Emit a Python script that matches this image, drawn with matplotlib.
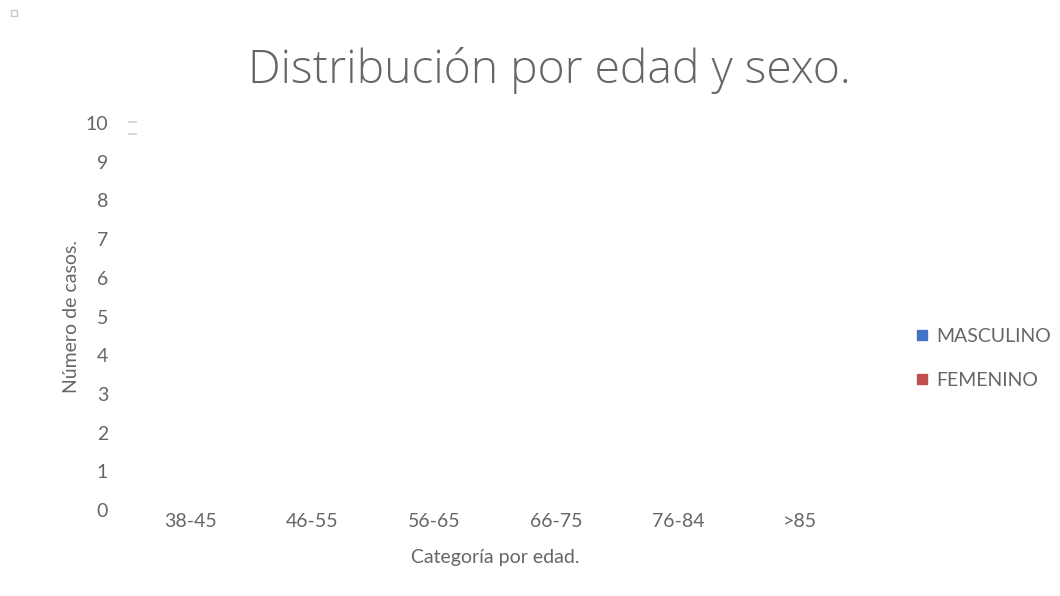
import matplotlib
matplotlib.use("Agg")
import matplotlib.pyplot as plt
import numpy as np
from matplotlib.lines import Line2D

categories = ["38-45", "46-55", "56-65", "66-75", "76-84", ">85"]
masculino = [0, 0, 0, 0, 0, 0]
femenino = [0, 0, 0, 0, 0, 0]
series_names = ["MASCULINO", "FEMENINO"]
colors = ["#4472C4", "#C0504D"]
yticks = list(range(0, 11))

grey = "#666666"
plt.rcParams['font.family'] = ['Lato', 'DejaVu Sans']

fig = plt.figure(figsize=(10.6, 5.96), dpi=100)
ax = fig.add_axes([0.1217, 0.1443, 0.6906, 0.6493])

x = np.arange(len(categories))
w = 0.35
ax.bar(x - w / 2, masculino, w, color=colors[0])
ax.bar(x + w / 2, femenino, w, color=colors[1])

ax.set_xlim(-0.5, len(categories) - 0.5)
ax.set_ylim(0, 10)
ax.set_yticks(yticks)
ax.set_xticks(x)
ax.set_xticklabels(categories)
for s in ax.spines.values():
    s.set_visible(False)
ax.tick_params(axis='both', length=0, colors=grey, labelsize=14)
ax.tick_params(axis='y', pad=15)
ax.tick_params(axis='x', pad=2)

ax.set_xlabel("Categoría por edad.", fontsize=14, color=grey, labelpad=14)
ax.set_ylabel("Número de casos.", fontsize=14, color=grey, labelpad=4)

fig.text(0.518, 0.881, "Distribución por edad y sexo.", fontsize=33.3, color=grey,
         ha='center', va='center', family=['Open Sans', 'DejaVu Sans'],
         fontweight=300)

handles = [Line2D([0], [0], marker='s', linestyle='none', markersize=7,
                  markerfacecolor=c, markeredgecolor=c) for c in colors]
leg = fig.legend(handles, series_names, loc='center left',
                 bbox_to_anchor=(0.846, 0.399), frameon=False, fontsize=14,
                 labelcolor=grey, handletextpad=0.35, labelspacing=1.4,
                 handlelength=0.8)

# small marker at top-left corner
fig.add_artist(Line2D([0.0132], [0.978], marker='s', markersize=5,
                      markerfacecolor='white', markeredgecolor='#c8c8c8',
                      linestyle='none', transform=fig.transFigure))
# faint dashes near the top-left of the plot area
for yy in (0.795, 0.776):
    fig.add_artist(Line2D([0.1217, 0.1283], [yy, yy], color='#d0d0d0', lw=1.2,
                          transform=fig.transFigure))

fig.savefig("out.png", dpi=100, facecolor='white')
